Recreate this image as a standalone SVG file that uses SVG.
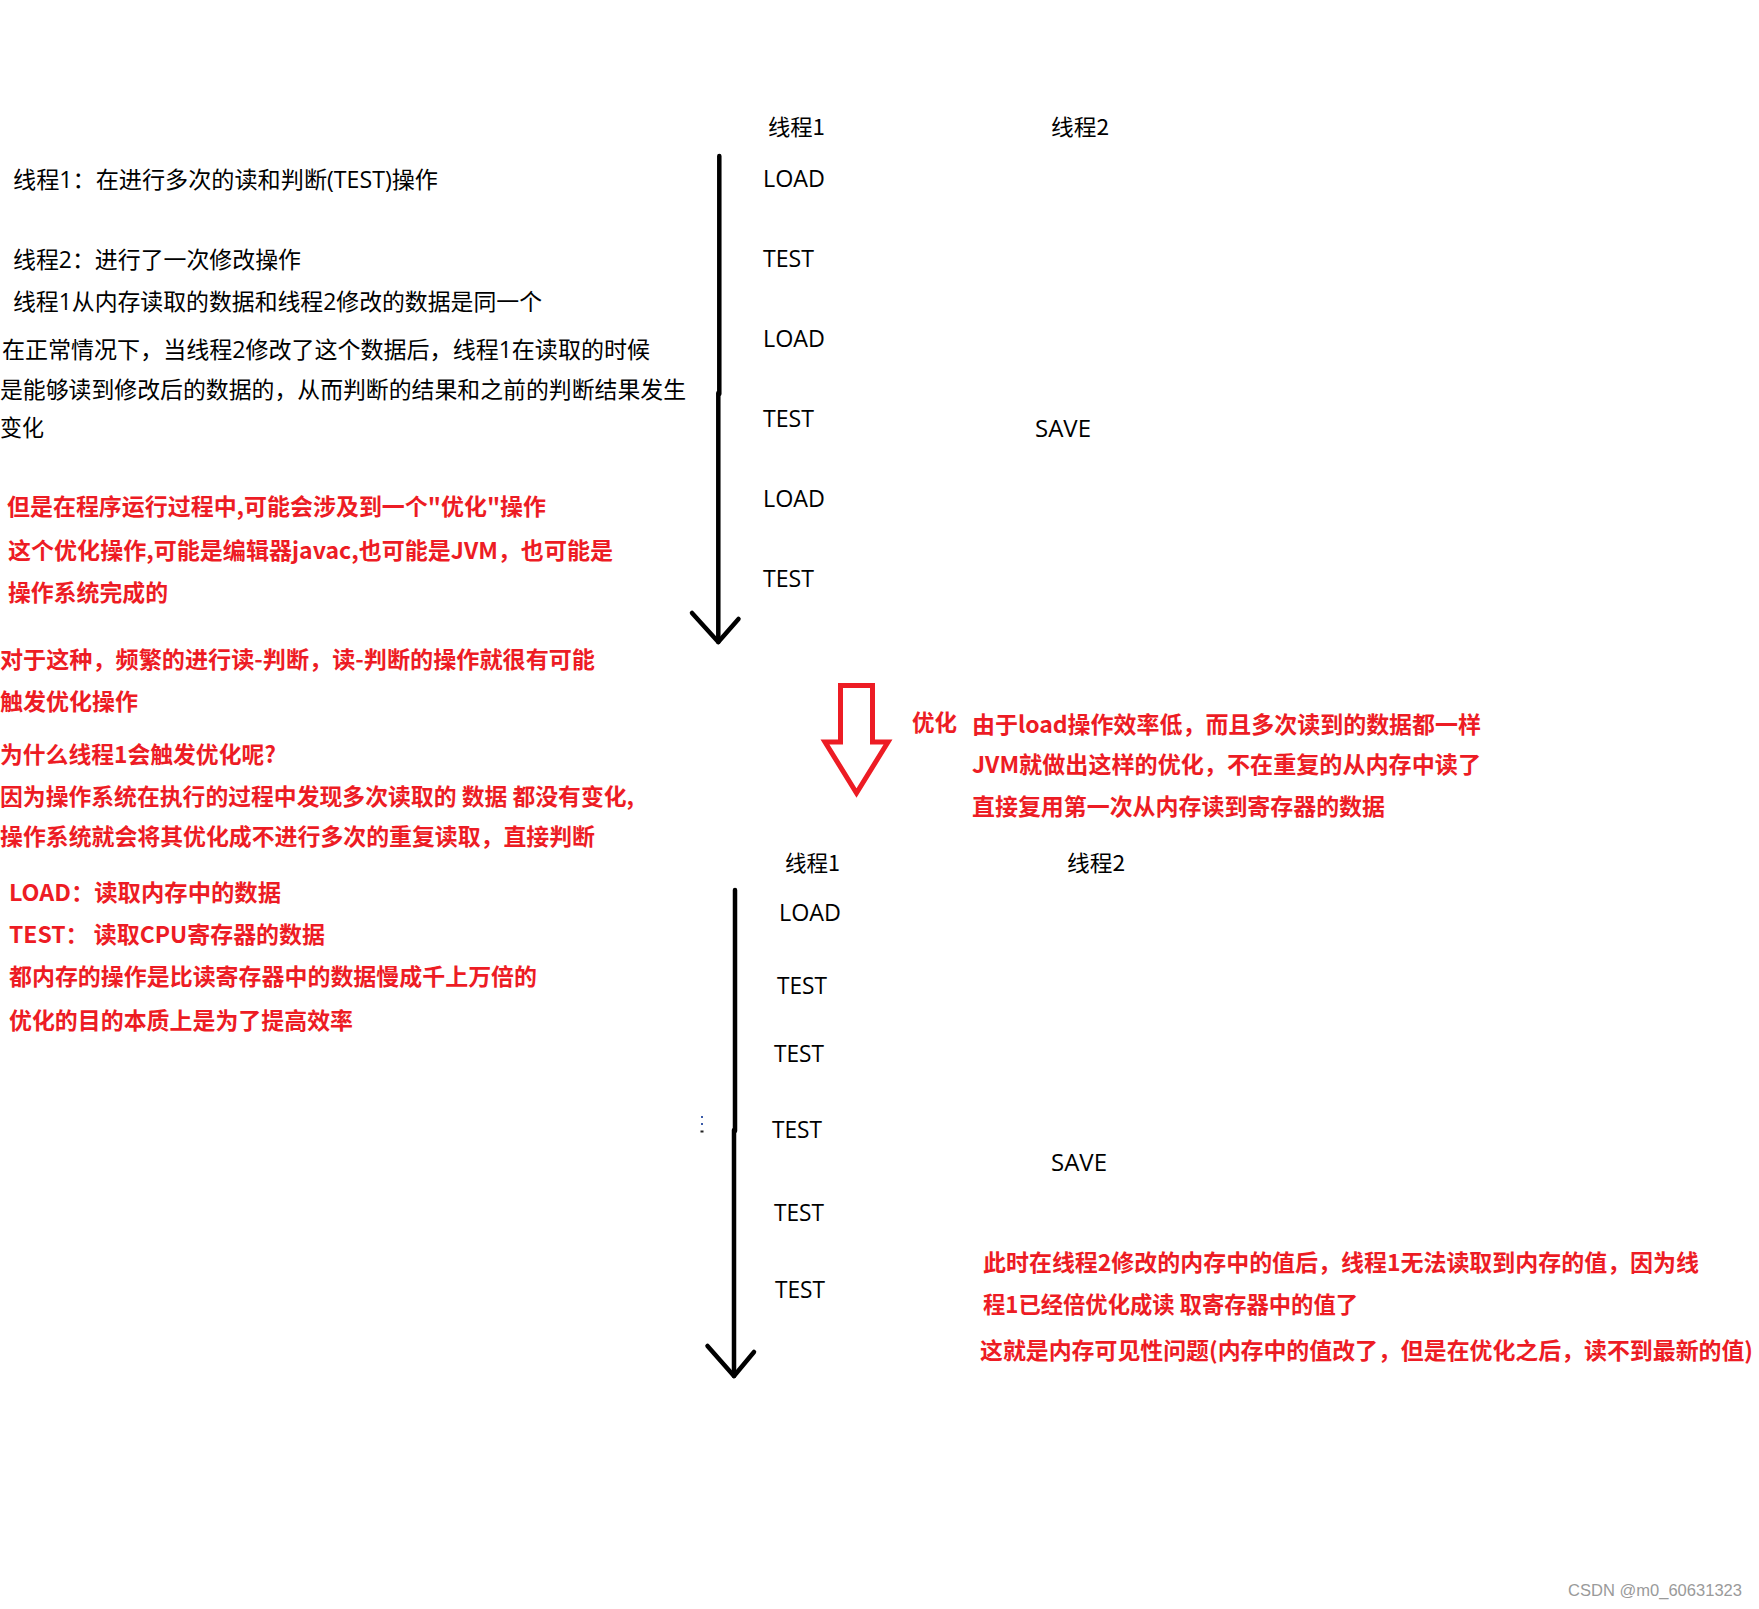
<svg xmlns="http://www.w3.org/2000/svg" width="1759" height="1609" viewBox="0 0 1759 1609">
<style>
.bk{font-family:"Open Sans","Noto Sans CJK SC",sans-serif;font-size:23px;fill:#000}
.op{font-family:"Open Sans","Noto Sans CJK SC",sans-serif;font-size:23px;fill:#000}
.hd{font-family:"Noto Sans CJK SC",sans-serif;font-size:22px;fill:#000}
.rd{font-family:"Noto Sans CJK SC",sans-serif;font-size:23px;font-weight:bold;fill:#ED1C24}
.wm{font-family:"Liberation Sans",Arial,sans-serif;font-size:16px;fill:#9a9a9a}
.tl{fill:none;stroke:#000;stroke-width:4.5;stroke-linecap:round;stroke-linejoin:round}
</style>
<rect width="1759" height="1609" fill="#fff"/>

<g id="left-black">
<text class="bk" x="13" y="188" textLength="425" lengthAdjust="spacingAndGlyphs">线程1：在进行多次的读和判断(TEST)操作</text>
<text class="bk" x="13" y="268" textLength="288" lengthAdjust="spacingAndGlyphs">线程2：进行了一次修改操作</text>
<text class="bk" x="13" y="310" textLength="529" lengthAdjust="spacingAndGlyphs">线程1从内存读取的数据和线程2修改的数据是同一个</text>
<text class="bk" x="2" y="358" textLength="648" lengthAdjust="spacingAndGlyphs">在正常情况下，当线程2修改了这个数据后，线程1在读取的时候</text>
<text class="bk" x="0" y="398" textLength="686" lengthAdjust="spacingAndGlyphs">是能够读到修改后的数据的，从而判断的结果和之前的判断结果发生</text>
<text class="bk" x="0" y="436" textLength="44" lengthAdjust="spacingAndGlyphs">变化</text>
</g>

<g id="left-red">
<text class="rd" x="7" y="515" textLength="539" lengthAdjust="spacingAndGlyphs">但是在程序运行过程中,可能会涉及到一个"优化"操作</text>
<text class="rd" x="8" y="559" textLength="605" lengthAdjust="spacingAndGlyphs">这个优化操作,可能是编辑器javac,也可能是JVM，也可能是</text>
<text class="rd" x="8" y="601" textLength="160" lengthAdjust="spacingAndGlyphs">操作系统完成的</text>
<text class="rd" x="0" y="668" textLength="595" lengthAdjust="spacingAndGlyphs">对于这种，频繁的进行读-判断，读-判断的操作就很有可能</text>
<text class="rd" x="0" y="710" textLength="138" lengthAdjust="spacingAndGlyphs">触发优化操作</text>
<text class="rd" x="0" y="763" textLength="276" lengthAdjust="spacingAndGlyphs">为什么线程1会触发优化呢?</text>
<text class="rd" x="0" y="805" textLength="634" lengthAdjust="spacingAndGlyphs">因为操作系统在执行的过程中发现多次读取的 数据 都没有变化,</text>
<text class="rd" x="0" y="845" textLength="595" lengthAdjust="spacingAndGlyphs">操作系统就会将其优化成不进行多次的重复读取，直接判断</text>
<text class="rd" x="9" y="901" textLength="272" lengthAdjust="spacingAndGlyphs">LOAD：读取内存中的数据</text>
<text class="rd" x="9" y="943" textLength="316" lengthAdjust="spacingAndGlyphs">TEST：  读取CPU寄存器的数据</text>
<text class="rd" x="9" y="985" textLength="528" lengthAdjust="spacingAndGlyphs">都内存的操作是比读寄存器中的数据慢成千上万倍的</text>
<text class="rd" x="9" y="1029" textLength="344" lengthAdjust="spacingAndGlyphs">优化的目的本质上是为了提高效率</text>
</g>

<g id="timeline-before">
<text class="hd" x="768" y="135" textLength="57" lengthAdjust="spacingAndGlyphs">线程1</text>
<text class="hd" x="1051" y="135" textLength="58" lengthAdjust="spacingAndGlyphs">线程2</text>
<text class="op" x="763" y="187" textLength="62" lengthAdjust="spacingAndGlyphs">LOAD</text>
<text class="op" x="763" y="267" textLength="51" lengthAdjust="spacingAndGlyphs">TEST</text>
<text class="op" x="763" y="347" textLength="62" lengthAdjust="spacingAndGlyphs">LOAD</text>
<text class="op" x="763" y="427" textLength="51" lengthAdjust="spacingAndGlyphs">TEST</text>
<text class="op" x="763" y="507" textLength="62" lengthAdjust="spacingAndGlyphs">LOAD</text>
<text class="op" x="763" y="587" textLength="51" lengthAdjust="spacingAndGlyphs">TEST</text>
<text class="op" x="1035" y="437" textLength="56" lengthAdjust="spacingAndGlyphs">SAVE</text>
</g>

<g id="optimize-arrow">
<polygon points="840.5,685.5 872.5,685.5 872.5,742 888,742 856.5,793 825,742 840.5,742" fill="none" stroke="#ED1C24" stroke-width="5"/>
<text class="rd" x="912" y="731" textLength="45" lengthAdjust="spacingAndGlyphs">优化</text>
</g>

<g id="optimize-note">
<text class="rd" x="972" y="733" textLength="509" lengthAdjust="spacingAndGlyphs">由于load操作效率低，而且多次读到的数据都一样</text>
<text class="rd" x="972" y="773" textLength="509" lengthAdjust="spacingAndGlyphs">JVM就做出这样的优化，不在重复的从内存中读了</text>
<text class="rd" x="972" y="815" textLength="413" lengthAdjust="spacingAndGlyphs">直接复用第一次从内存读到寄存器的数据</text>
</g>

<g id="timeline-after">
<text class="hd" x="785" y="871" textLength="55" lengthAdjust="spacingAndGlyphs">线程1</text>
<text class="hd" x="1067" y="871" textLength="58" lengthAdjust="spacingAndGlyphs">线程2</text>
<text class="op" x="779" y="921" textLength="62" lengthAdjust="spacingAndGlyphs">LOAD</text>
<text class="op" x="777" y="994" textLength="50" lengthAdjust="spacingAndGlyphs">TEST</text>
<text class="op" x="774" y="1062" textLength="50" lengthAdjust="spacingAndGlyphs">TEST</text>
<text class="op" x="772" y="1138" textLength="50" lengthAdjust="spacingAndGlyphs">TEST</text>
<text class="op" x="774" y="1221" textLength="50" lengthAdjust="spacingAndGlyphs">TEST</text>
<text class="op" x="775" y="1298" textLength="50" lengthAdjust="spacingAndGlyphs">TEST</text>
<text class="op" x="1051" y="1171" textLength="56" lengthAdjust="spacingAndGlyphs">SAVE</text>
</g>

<g id="visibility-note">
<text class="rd" x="983" y="1271" textLength="716" lengthAdjust="spacingAndGlyphs">此时在线程2修改的内存中的值后，线程1无法读取到内存的值，因为线</text>
<text class="rd" x="983" y="1313" textLength="375" lengthAdjust="spacingAndGlyphs">程1已经倍优化成读 取寄存器中的值了</text>
<text class="rd" x="980" y="1359" textLength="773" lengthAdjust="spacingAndGlyphs">这就是内存可见性问题(内存中的值改了，但是在优化之后，读不到最新的值)</text>
</g>

<g id="marks">
<rect x="701" y="1116" width="2" height="2" fill="#3a5aa8"/>
<rect x="701" y="1123" width="2" height="2" fill="#3a5aa8"/>
<rect x="700.5" y="1130.5" width="3" height="2" fill="#222"/>
</g>

<g id="connectors">
<path class="tl" d="M719.3 156 L719.3 394 M718.3 393 L718.3 642"/>
<path class="tl" d="M692 613 L718.3 642 L738.5 619"/>
<path class="tl" d="M735 890 L735 1131 M734 1130 L734 1376"/>
<path class="tl" d="M707.5 1346 L734 1376 L754 1352"/>
</g>

<text class="wm" x="1568" y="1596" textLength="174" lengthAdjust="spacingAndGlyphs">CSDN @m0_60631323</text>
</svg>
